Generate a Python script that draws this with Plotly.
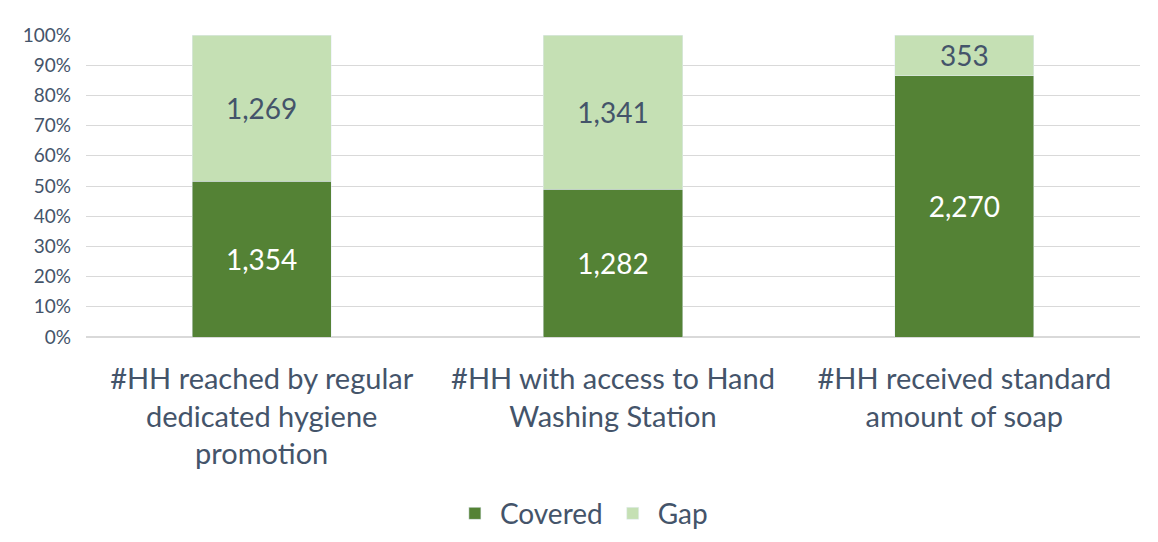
import plotly.graph_objects as go

categories = ["#HH reached by regular<br>dedicated hygiene<br>promotion",
              "#HH with access to Hand<br>Washing Station",
              "#HH received standard<br>amount of soap"]
covered = [1354, 1282, 2270]
gap = [1269, 1341, 353]
tick_vals = [0, 10, 20, 30, 40, 50, 60, 70, 80, 90, 100]
tick_text = [f"{v}%" for v in tick_vals]

text_color = "#44546A"
font_family = "Lato, Open Sans, sans-serif"

fig = go.Figure()
fig.add_trace(go.Bar(
    name="Covered", x=categories, y=covered, marker_color="#548235",
    text=[f"{v:,}" for v in covered], textposition="inside", insidetextanchor="middle",
    textangle=0, textfont=dict(size=28, color="white", family=font_family),
    hoverinfo="skip",
))
fig.add_trace(go.Bar(
    name="Gap", x=categories, y=gap, marker_color="#C5E0B4",
    text=[f"{v:,}" for v in gap], textposition="inside", insidetextanchor="middle",
    textangle=0, textfont=dict(size=28, color=text_color, family=font_family),
    hoverinfo="skip",
))

fig.update_layout(
    barmode="stack", barnorm="percent", bargap=0.604,
    width=1150, height=542,
    margin=dict(l=78, r=18, t=27, b=200),
    plot_bgcolor="white", paper_bgcolor="white",
    font=dict(family=font_family, color=text_color),
    legend=dict(orientation="h", x=0.47, xanchor="center", y=-0.585, yanchor="middle",
                font=dict(size=28, color=text_color), traceorder="normal",
                itemwidth=40),
    uniformtext=dict(mode=False),
)
fig.update_yaxes(range=[0, 100], tickvals=tick_vals, ticktext=tick_text,
                 showgrid=True, gridcolor="#D9D9D9", gridwidth=1,
                 zeroline=True, zerolinecolor="#D9D9D9", automargin=False,
                 tickfont=dict(size=19, color=text_color), ticks="", showline=False,
                 ticklabelstandoff=14)
fig.update_xaxes(tickfont=dict(size=29, color=text_color), showline=False, ticks="",
                 automargin=False, ticklabelstandoff=22)

fig.write_html("out.html")
